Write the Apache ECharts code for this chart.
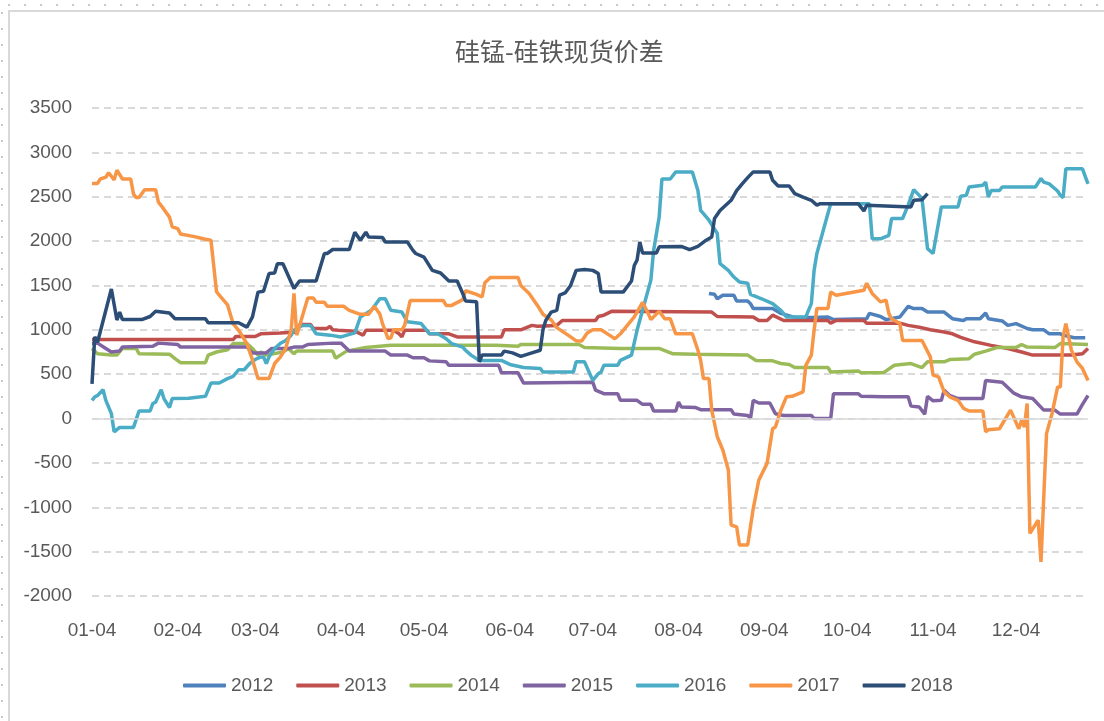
<!DOCTYPE html>
<html>
<head>
<meta charset="utf-8">
<script src="https://cdn.jsdelivr.net/npm/echarts@6/dist/echarts.min.js"></script>
<style>
  html, body { margin: 0; padding: 0; background: #fff; }
  #wrap { position: relative; width: 1104px; height: 721px; overflow: hidden; }
  #chart { position: absolute; left: 0; top: 0; width: 1104px; height: 721px; }
  .dots-top { position: absolute; left: 8px; top: 4px; width: 1096px; height: 2px;
    background: repeating-linear-gradient(90deg, #c8c8c8 0 2px, transparent 2px 16px); }
  .dots-left { position: absolute; left: 1px; top: 12px; width: 2px; height: 709px;
    background: repeating-linear-gradient(180deg, #c8c8c8 0 2px, transparent 2px 16px); }
  .frame { position: absolute; left: 8px; top: 10px; width: 1100px; height: 720px;
    border-left: 2px solid #d9d9d9; border-top: 2px solid #d9d9d9; }
</style>
</head>
<body>
<div id="wrap">
  <div class="dots-top"></div>
  <div class="dots-left"></div>
  <div class="frame"></div>
  <div id="chart"></div>
</div>
<script>
// x = days after 01-04, y = 价差
var tickDays = [0, 31, 59, 90, 120, 151, 181, 212, 243, 273, 304, 334]
var tickLabels = ['01-04', '02-04', '03-04', '04-04', '05-04', '06-04', '07-04', '08-04', '09-04', '10-04', '11-04', '12-04']
var years = ['2012', '2013', '2014', '2015', '2016', '2017', '2018']
var colors = ['#4f81bd', '#c0504d', '#9bbb59', '#8064a2', '#4bacc6', '#f79646', '#2c4d75']

var d2012 = [[223, 1410], [225, 1400], [226, 1350], [228, 1390], [232, 1390], [233, 1325], [237, 1325], [238, 1295], [239, 1240],
  [246, 1240], [249, 1185], [254, 1140], [261, 1140], [266, 1145], [268, 1115], [280, 1125], [281, 1185], [285, 1150], [287, 1115],
  [292, 1145], [295, 1265], [297, 1240], [300, 1240], [302, 1200], [308, 1200], [311, 1125], [315, 1105], [316, 1125], [321, 1125],
  [323, 1190], [324, 1125], [329, 1100], [331, 1050], [334, 1070], [338, 1015], [340, 1000], [344, 1000], [346, 955], [350, 955],
  [351, 940], [355, 910], [359, 910]]

var d2013 = [[0, 890], [51, 890], [52, 925], [59, 925], [61, 955], [68, 965], [74, 975], [75, 1060], [79, 1060], [80, 1015],
  [85, 1015], [86, 1040], [87, 1000], [89, 995], [95, 985], [98, 940], [99, 995], [109, 995], [111, 955], [112, 920], [113, 995],
  [121, 995], [122, 955], [129, 955], [132, 920], [148, 920], [149, 1000], [155, 1000], [159, 1050], [161, 1040], [168, 1050],
  [170, 1105], [182, 1105], [183, 1150], [185, 1165], [188, 1210], [224, 1200], [226, 1150], [239, 1145], [241, 1105], [244, 1105],
  [246, 1165], [250, 1105], [266, 1105], [267, 1075], [269, 1105], [279, 1105], [280, 1075], [292, 1075], [295, 1050], [299, 1030],
  [303, 1000], [308, 975], [311, 955], [314, 915], [319, 865], [325, 825], [331, 790], [336, 750], [340, 715], [354, 715],
  [358, 730], [360, 790]]

var d2014 = [[0, 790], [2, 730], [7, 715], [9, 715], [11, 790], [16, 790], [17, 730], [28, 725], [30, 675], [32, 630], [41, 630],
  [42, 715], [45, 750], [49, 775], [51, 845], [56, 845], [58, 790], [60, 715], [61, 750], [63, 715], [69, 750], [71, 790], [73, 730],
  [74, 760], [87, 760], [88, 680], [91, 740], [92, 760], [99, 800], [108, 825], [146, 825], [154, 815], [155, 835], [176, 835],
  [178, 800], [191, 790], [205, 790], [210, 730], [218, 725], [237, 715], [240, 655], [246, 650], [249, 620], [252, 610], [254, 575],
  [266, 575], [267, 525], [277, 535], [278, 515], [286, 515], [290, 600], [296, 620], [300, 575], [302, 640], [308, 640], [310, 665],
  [317, 675], [319, 725], [323, 760], [327, 800], [334, 800], [336, 835], [338, 805], [348, 800], [350, 845], [360, 835]]

var d2015 = [[0, 845], [2, 850], [5, 790], [7, 750], [10, 760], [11, 805], [22, 815], [24, 850], [31, 835], [32, 805], [56, 805],
  [58, 740], [63, 740], [65, 790], [71, 790], [73, 805], [76, 805], [78, 835], [87, 850], [90, 850], [93, 760], [106, 760], [108, 715],
  [114, 715], [116, 685], [120, 685], [122, 650], [128, 640], [129, 600], [147, 600], [148, 515], [154, 515], [156, 400], [181, 410],
  [182, 320], [185, 280], [190, 280], [191, 205], [197, 205], [199, 160], [202, 160], [203, 85], [211, 85], [212, 185], [213, 130],
  [218, 125], [220, 100], [231, 100], [232, 50], [237, 35], [238, 0], [239, 205], [241, 175], [245, 175], [247, 55], [250, 35],
  [260, 35], [261, 0], [267, 0], [268, 280], [277, 280], [278, 250], [286, 245], [295, 245], [296, 140], [299, 130], [301, 50],
  [302, 250], [304, 200], [307, 205], [308, 320], [310, 260], [313, 225], [322, 225], [323, 430], [329, 410], [333, 290], [336, 245],
  [340, 225], [344, 95], [348, 95], [350, 50], [356, 50], [358, 160], [360, 260]]

var d2016 = [[0, 205], [1, 245], [2, 260], [4, 325], [5, 205], [7, 55], [8, -150], [10, -100], [15, -100], [17, 85], [21, 85],
  [22, 170], [23, 185], [25, 325], [26, 225], [28, 125], [29, 225], [35, 230], [41, 250], [43, 400], [46, 400], [49, 450], [51, 475],
  [53, 550], [55, 550], [57, 620], [59, 665], [61, 695], [62, 695], [63, 620], [64, 695], [66, 790], [68, 845], [70, 880], [72, 940],
  [73, 995], [76, 1050], [79, 1050], [81, 955], [86, 940], [90, 920], [95, 965], [97, 1145], [101, 1220], [104, 1350], [106, 1350],
  [108, 1220], [112, 1200], [114, 1090], [119, 1070], [122, 955], [125, 955], [128, 900], [130, 845], [134, 805], [135, 770],
  [137, 715], [140, 655], [148, 655], [151, 610], [156, 575], [162, 565], [163, 525], [174, 525], [175, 640], [178, 640], [181, 430],
  [183, 505], [184, 525], [185, 600], [190, 600], [191, 655], [195, 715], [197, 995], [199, 1220], [202, 1560], [203, 1895],
  [205, 2270], [206, 2700], [209, 2700], [211, 2780], [217, 2780], [219, 2570], [220, 2345], [223, 2235], [226, 2085], [227, 1745],
  [230, 1670], [232, 1595], [234, 1540], [237, 1525], [238, 1400], [242, 1350], [246, 1295], [249, 1220], [251, 1145], [258, 1145],
  [260, 1295], [261, 1670], [262, 1860], [264, 2085], [266, 2310], [267, 2420], [281, 2420], [282, 2025], [285, 2025], [288, 2065],
  [289, 2255], [293, 2255], [295, 2405], [297, 2580], [299, 2515], [300, 2480], [302, 1915], [304, 1860], [307, 2385], [313, 2385],
  [314, 2505], [316, 2515], [317, 2610], [322, 2630], [323, 2665], [324, 2495], [325, 2570], [328, 2570], [329, 2610], [341, 2610],
  [343, 2705], [344, 2665], [346, 2645], [349, 2565], [350, 2515], [351, 2490], [352, 2815], [358, 2815], [360, 2645]]

var d2017 = [[0, 2650], [2, 2650], [3, 2700], [5, 2720], [6, 2770], [8, 2690], [9, 2800], [11, 2700], [14, 2700], [15, 2530],
  [16, 2490], [17, 2490], [19, 2580], [23, 2580], [24, 2440], [25, 2400], [28, 2270], [29, 2160], [31, 2140], [32, 2080], [37, 2050],
  [41, 2020], [43, 2010], [45, 1430], [46, 1390], [49, 1280], [51, 1070], [53, 995], [56, 845], [58, 660], [60, 450], [64, 450],
  [66, 620], [68, 690], [70, 790], [71, 900], [72, 995], [73, 1410], [74, 940], [78, 1360], [80, 1360], [81, 1310], [84, 1310],
  [85, 1265], [91, 1265], [93, 1220], [97, 1175], [100, 1175], [102, 1265], [104, 1180], [105, 1070], [107, 900], [108, 910],
  [109, 1000], [112, 1000], [113, 1050], [115, 1330], [127, 1330], [128, 1275], [130, 1275], [134, 1340], [135, 1440], [139, 1400],
  [141, 1370], [142, 1530], [144, 1590], [154, 1590], [155, 1500], [158, 1410], [161, 1275], [163, 1175], [166, 1110], [168, 1025],
  [173, 920], [175, 875], [177, 875], [179, 965], [181, 1000], [184, 1000], [187, 940], [189, 900], [191, 955], [194, 1070],
  [196, 1145], [199, 1310], [201, 1185], [202, 1115], [205, 1210], [207, 1125], [209, 1125], [211, 955], [217, 955], [219, 770],
  [220, 655], [221, 450], [223, 450], [224, 95], [226, -205], [228, -355], [230, -580], [231, -1200], [233, -1220], [234, -1425],
  [237, -1425], [239, -1015], [241, -695], [244, -505], [246, -115], [247, -95], [249, 95], [251, 245], [253, 250], [257, 300],
  [258, 600], [260, 715], [261, 995], [262, 1240], [266, 1240], [267, 1425], [269, 1390], [279, 1445], [280, 1525], [282, 1410],
  [285, 1315], [287, 1335], [288, 1185], [289, 1125], [292, 1070], [293, 880], [300, 880], [303, 695], [304, 490], [306, 470],
  [308, 300], [310, 245], [313, 205], [315, 115], [317, 85], [322, 85], [323, -150], [324, -125], [328, -115], [332, 95],
  [335, -115], [336, -20], [337, -95], [338, 170], [339, -1295], [342, -1145], [343, -1615], [345, -170], [347, 55], [349, 355],
  [350, 355], [351, 920], [352, 1070], [353, 920], [354, 770], [356, 640], [358, 565], [360, 430]]

var d2018 = [[0, 390], [1, 920], [2, 860], [7, 1460], [9, 1110], [10, 1200], [11, 1115], [18, 1115], [21, 1150], [23, 1210],
  [28, 1190], [30, 1125], [41, 1125], [42, 1080], [53, 1080], [56, 1030], [58, 1145], [60, 1425], [62, 1435], [64, 1635], [66, 1640],
  [67, 1745], [69, 1745], [73, 1465], [75, 1550], [81, 1550], [84, 1860], [85, 1860], [87, 1905], [93, 1905], [95, 2100], [97, 2010],
  [99, 2100], [100, 2045], [105, 2040], [106, 1990], [114, 1990], [116, 1895], [117, 1860], [120, 1820], [123, 1670], [126, 1640],
  [129, 1550], [132, 1550], [134, 1410], [135, 1325], [139, 1315], [140, 640], [141, 715], [148, 715], [149, 760], [152, 740],
  [155, 700], [159, 740], [162, 770], [163, 1000], [164, 1105], [166, 1200], [168, 1220], [169, 1390], [171, 1415], [173, 1500],
  [175, 1670], [178, 1680], [181, 1670], [183, 1635], [184, 1425], [192, 1425], [195, 1550], [196, 1725], [197, 1785], [198, 1990],
  [199, 1865], [204, 1865], [205, 1935], [213, 1940], [216, 1905], [219, 1940], [222, 2010], [224, 2045], [225, 2255], [227, 2345],
  [231, 2460], [233, 2570], [235, 2645], [237, 2715], [239, 2780], [245, 2780], [246, 2685], [248, 2620], [252, 2620], [254, 2535],
  [257, 2495], [260, 2460], [262, 2405], [263, 2420], [277, 2420], [279, 2340], [280, 2405], [296, 2385], [297, 2460], [300, 2465],
  [302, 2535]]

var seriesData = [d2012, d2013, d2014, d2015, d2016, d2017, d2018]

var labelFont = "'Liberation Sans', Arial, sans-serif"
var chart = echarts.init(document.getElementById('chart'))

var series = years.map(function(y, i) {
  var s = {
    name: y,
    type: 'line',
    data: seriesData[i],
    showSymbol: false,
    symbol: 'none',
    lineStyle: { color: colors[i], width: 3.5 },
    itemStyle: { color: colors[i] },
    animation: false
  }
  if (i === 0) {
    s.markLine = {
      silent: true,
      symbol: ['none', 'none'],
      label: { show: false },
      lineStyle: { color: '#d9d9d9', type: 'solid', width: 1.5 },
      data: [{ yAxis: 0 }]
    }
  }
  return s
})

chart.setOption({
  animation: false,
  title: {
    text: '硅锰-硅铁现货价差',
    left: 455,
    top: 39,
    padding: 0,
    textStyle: {
      color: '#595959',
      fontSize: 25,
      fontWeight: 'normal',
      fontFamily: "'Noto Sans CJK SC', sans-serif"
    }
  },
  grid: {
    left: 92,
    right: 16,
    top: 108,
    bottom: 125,
    containLabel: false
  },
  legend: {
    data: years,
    left: 183,
    top: 676,
    padding: 0,
    icon: 'roundRect',
    itemWidth: 43,
    itemHeight: 4,
    itemGap: 23,
    textStyle: { color: '#595959', fontSize: 19, fontFamily: labelFont }
  },
  xAxis: {
    type: 'value',
    min: 0,
    max: 360,
    axisLine: { show: false, onZero: false },
    axisTick: { show: false },
    splitLine: { show: false },
    axisLabel: {
      customValues: tickDays,
      margin: 25,
      color: '#595959',
      fontSize: 19,
      fontFamily: labelFont,
      formatter: function(v) {
        var k = tickDays.indexOf(v)
        return k >= 0 ? tickLabels[k] : ''
      }
    }
  },
  yAxis: {
    type: 'value',
    min: -2000,
    max: 3500,
    interval: 500,
    axisLine: { show: false },
    axisTick: { show: false },
    axisLabel: {
      margin: 20,
      color: '#595959',
      fontSize: 19,
      fontFamily: labelFont,
      formatter: function(v) { return String(v) }
    },
    splitLine: {
      lineStyle: { color: '#d9d9d9', type: [7, 5], width: 2 }
    }
  },
  series: series
})
</script>
</body>
</html>
